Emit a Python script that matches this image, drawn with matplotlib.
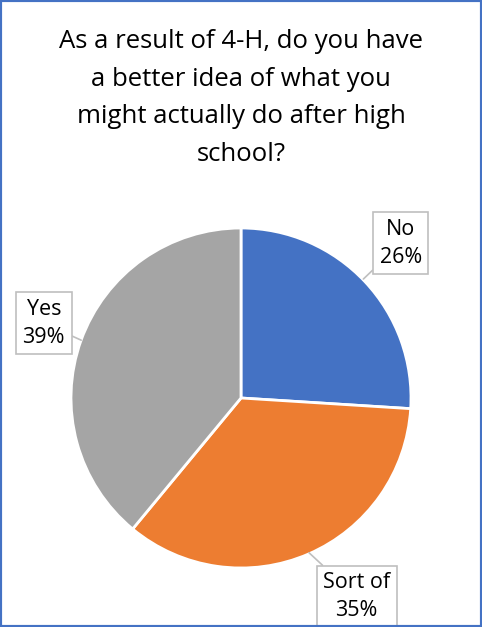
import matplotlib
matplotlib.use("Agg")
import matplotlib.pyplot as plt
from matplotlib.patches import Rectangle

TITLE = "As a result of 4-H, do you have\na better idea of what you\nmight actually do after high\nschool?"
CATEGORIES = ["No", "Sort of", "Yes"]
PERCENTS = [26, 35, 39]
COLORS = ["#4472C4", "#ED7D31", "#A5A5A5"]

# label box centres and pointer tips, in pie data units (radius = 1)
LABEL_POS = [(0.94, 0.91), (0.68, -1.17), (-1.16, 0.44)]
POINTER_TIP = [(0.72, 0.70), (0.40, -0.91), (-0.94, 0.34)]

W, H = 482, 627
fig = plt.figure(figsize=(W / 100, H / 100), dpi=100)
plt.rcParams["font.family"] = ["Open Sans", "DejaVu Sans"]

cx, cy, r = 241, 398, 170
ax = fig.add_axes([(cx - r) / W, (H - cy - r) / H, 2 * r / W, 2 * r / H])
ax.pie(
    PERCENTS,
    colors=COLORS,
    startangle=90,
    counterclock=False,
    radius=1,
    wedgeprops={"edgecolor": "white", "linewidth": 2},
)
ax.set_xlim(-1, 1)
ax.set_ylim(-1, 1)
ax.set_aspect("equal")
ax.axis("off")

for cat, pct, pos, tip in zip(CATEGORIES, PERCENTS, LABEL_POS, POINTER_TIP):
    ax.annotate(
        f"{cat}\n{pct}%",
        xy=tip,
        xytext=pos,
        ha="center",
        va="center",
        fontsize=15.5,
        linespacing=1.45,
        annotation_clip=False,
        bbox=dict(boxstyle="square,pad=0.3", facecolor="white", edgecolor="#BFBFBF", linewidth=1.2),
        arrowprops=dict(arrowstyle="-", color="#BFBFBF", linewidth=1.2, shrinkA=0, shrinkB=0),
    )

fig.text(0.5, 1 - 98 / H, TITLE, ha="center", va="center", fontsize=18.5, linespacing=1.65)

fig.add_artist(Rectangle((0, 0), 1, 1, transform=fig.transFigure, fill=False,
                         edgecolor="#4472C4", linewidth=3))

fig.savefig("out.png", dpi=100)
